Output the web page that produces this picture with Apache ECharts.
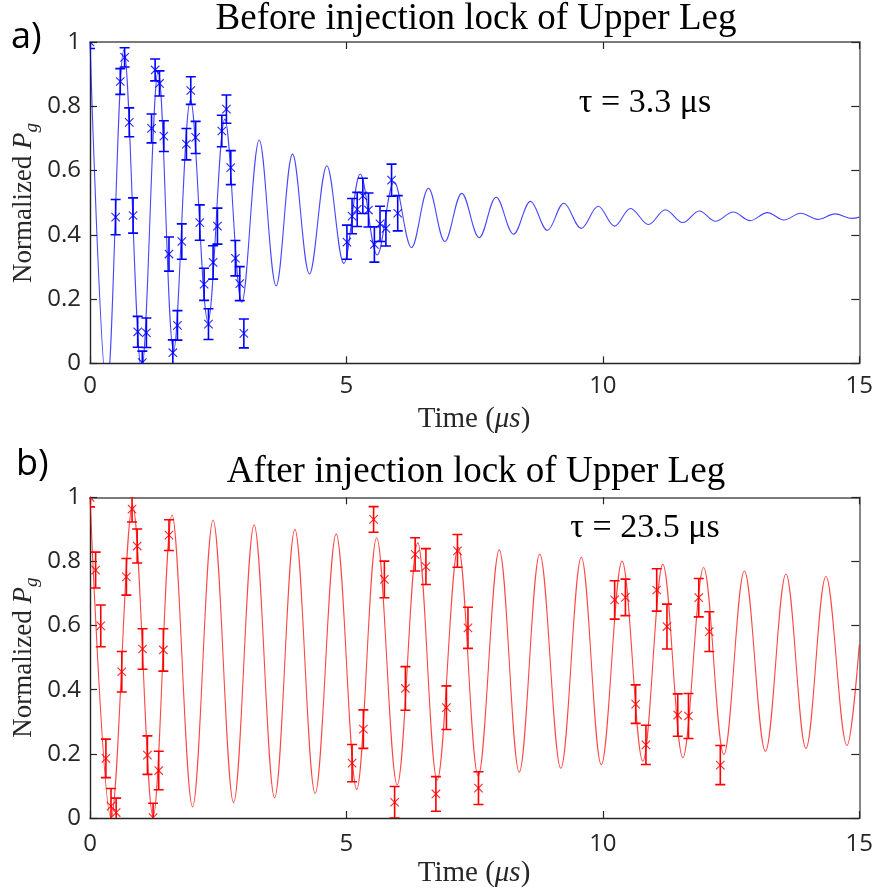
<!DOCTYPE html>
<html>
<head>
<meta charset="utf-8">
<script src="https://cdn.jsdelivr.net/npm/echarts@6/dist/echarts.min.js"></script>
<style>
  html, body { margin: 0; padding: 0; background: #ffffff; }
  #chart { width: 876px; height: 894px; }
</style>
</head>
<body>
<div id="chart"></div>
<script>
// ---------- Panel a) : before injection lock ----------
const topTime = [0, 0.50, 0.59, 0.675, 0.765, 0.84, 0.93, 1.02, 1.10, 1.20, 1.27, 1.355, 1.44, 1.54, 1.615, 1.705, 1.79, 1.88, 1.965, 2.06, 2.14, 2.225, 2.31, 2.40, 2.485, 2.57, 2.66, 2.745, 2.835, 2.92, 3.0,
                 5.01, 5.11, 5.21, 5.32, 5.43, 5.545, 5.655, 5.77, 5.88, 6.0];
const topValue = [1.0, 0.455, 0.877, 0.952, 0.75, 0.46, 0.098, 0.002, 0.095, 0.731, 0.913, 0.871, 0.707, 0.34, 0.033, 0.118, 0.379, 0.682, 0.849, 0.703, 0.438, 0.246, 0.122, 0.314, 0.427, 0.723, 0.791, 0.609, 0.327, 0.248, 0.093,
                  0.377, 0.458, 0.479, 0.521, 0.477, 0.37, 0.434, 0.42, 0.57, 0.467];
const topError = [0.02, 0.055, 0.04, 0.03, 0.045, 0.055, 0.048, 0.036, 0.046, 0.045, 0.034, 0.039, 0.048, 0.053, 0.04, 0.046, 0.055, 0.049, 0.043, 0.05, 0.055, 0.05, 0.048, 0.052, 0.056, 0.049, 0.044, 0.053, 0.055, 0.053, 0.045,
                  0.053, 0.055, 0.053, 0.055, 0.053, 0.055, 0.055, 0.055, 0.05, 0.055];
// fit curve: extrema (peaks / troughs)
const topFitTime = [0, 0.33, 0.66, 1.005, 1.33, 1.63, 1.96, 2.30, 2.63, 2.96, 3.30, 3.63, 3.95, 4.28, 4.62, 4.95, 5.27, 5.60, 5.93, 6.27, 6.60, 6.92, 7.25, 7.59, 7.92, 8.26, 8.59, 8.92, 9.24, 9.58, 9.91, 10.23, 10.54, 10.89, 11.22, 11.56, 11.88, 12.20, 12.54, 12.87, 13.21, 13.53, 13.86, 14.19, 14.53, 14.86, 15];
const topFitValue = [1.0, -0.08, 0.975, -0.02, 0.91, 0.04, 0.82, 0.13, 0.76, 0.19, 0.695, 0.241, 0.651, 0.278, 0.615, 0.311, 0.589, 0.337, 0.565, 0.36, 0.545, 0.379, 0.529, 0.391, 0.517, 0.402, 0.504, 0.414, 0.498, 0.42, 0.489, 0.427, 0.482, 0.432, 0.478, 0.438, 0.474, 0.442, 0.471, 0.444, 0.469, 0.446, 0.467, 0.448, 0.465, 0.451, 0.455];

// ---------- Panel b) : after injection lock ----------
const botTime = [0, 0.11, 0.21, 0.31, 0.41, 0.51, 0.62, 0.71, 0.82, 0.92, 1.025, 1.12, 1.23, 1.34, 1.43, 1.54,
                 5.11, 5.33, 5.53, 5.74, 5.94, 6.15, 6.34, 6.55, 6.745, 6.95, 7.165, 7.37, 7.575,
                 10.23, 10.44, 10.64, 10.84, 11.05, 11.25, 11.46, 11.67, 11.87, 12.075, 12.29];
const botValue = [1.0, 0.773, 0.599, 0.186, 0.037, 0.017, 0.456, 0.752, 0.963, 0.848, 0.527, 0.196, 0.001, 0.148, 0.524, 0.882,
                  0.171, 0.277, 0.931, 0.744, 0.049, 0.404, 0.822, 0.784, 0.075, 0.344, 0.833, 0.593, 0.093,
                  0.68, 0.688, 0.355, 0.228, 0.711, 0.597, 0.321, 0.318, 0.687, 0.581, 0.165];
const botError = [0.03, 0.056, 0.065, 0.06, 0.055, 0.045, 0.063, 0.057, 0.04, 0.053, 0.063, 0.06, 0.045, 0.06, 0.066, 0.048,
                  0.058, 0.06, 0.04, 0.057, 0.049, 0.068, 0.052, 0.056, 0.054, 0.068, 0.051, 0.064, 0.051,
                  0.06, 0.057, 0.06, 0.061, 0.066, 0.07, 0.066, 0.07, 0.06, 0.062, 0.061];
const botFitTime = [0, 0.41, 0.83, 1.23, 1.60, 2.0, 2.40, 2.80, 3.20, 3.60, 3.995, 4.39, 4.80, 5.20, 5.59, 5.99, 6.39, 6.77, 7.18, 7.57, 7.98, 8.37, 8.77, 9.18, 9.58, 9.97, 10.375, 10.78, 11.17, 11.56, 11.965, 12.36, 12.76, 13.17, 13.57, 13.96, 14.35, 14.76, 15];
const botFitValue = [1.0, 0.0, 0.974, 0.005, 0.945, 0.035, 0.929, 0.048, 0.914, 0.063, 0.9, 0.077, 0.886, 0.089, 0.874, 0.103, 0.858, 0.118, 0.844, 0.131, 0.836, 0.143, 0.823, 0.155, 0.813, 0.166, 0.801, 0.177, 0.791, 0.188, 0.781, 0.198, 0.770, 0.208, 0.761, 0.217, 0.753, 0.226, 0.54];

// ---------- axis ticks ----------
const xMin = 0, xMax = 15, xStep = 5;
const yMin = 0, yMax = 1, yStep = 0.2;

const titles = ['Before injection lock of Upper Leg', 'After injection lock of Upper Leg'];
const panelTags = ['a)', 'b)'];
const tauTexts = ['τ = 3.3 μs', 'τ = 23.5 μs'];

// ---------- build ----------
const SERIF = "'Liberation Serif', 'Times New Roman', serif";
const SANS = "'Open Sans', 'Noto Sans', sans-serif";
const AX_DARK = '#262626';
const AX_GREY = '#7a7a7a';

function zip2(a, b) { return a.map((v, i) => [v, b[i]]); }
function zip3(a, b, c) { return a.map((v, i) => [v, b[i], c[i]]); }

function errRenderer(color) {
  return function (params, api) {
    const x = api.value(0), y = api.value(1), e = api.value(2);
    const c = api.coord([x, y]);
    const hi = api.coord([x, y + e]);
    const lo = api.coord([x, y - e]);
    const cw = 5, m = 4.2;
    const bar = { stroke: color, lineWidth: 1.6 };
    const mk = { stroke: color, lineWidth: 1.1, opacity: 0.85 };
    return {
      type: 'group',
      children: [
        { type: 'line', shape: { x1: c[0], y1: hi[1], x2: c[0], y2: lo[1] }, style: bar },
        { type: 'line', shape: { x1: c[0] - cw, y1: hi[1], x2: c[0] + cw, y2: hi[1] }, style: bar },
        { type: 'line', shape: { x1: c[0] - cw, y1: lo[1], x2: c[0] + cw, y2: lo[1] }, style: bar },
        { type: 'line', shape: { x1: c[0] - m, y1: c[1] - m, x2: c[0] + m, y2: c[1] + m }, style: mk },
        { type: 'line', shape: { x1: c[0] - m, y1: c[1] + m, x2: c[0] + m, y2: c[1] - m }, style: mk }
      ]
    };
  };
}

const grids = [
  { left: 90, top: 42, width: 771, height: 321.3 },
  { left: 90, top: 497.3, width: 771, height: 320.7 }
];

const xAxes = [], yAxes = [];
[0, 1].forEach(g => {
  const labelMargin = g === 0 ? 11 : 14;
  xAxes.push({
    type: 'value', gridIndex: g, position: 'bottom', min: xMin, max: xMax, interval: xStep,
    axisLine: { onZero: false, lineStyle: { color: AX_DARK, width: 1.4 } },
    axisTick: { inside: true, length: 7, lineStyle: { color: AX_DARK, width: 1.2 } },
    axisLabel: { fontFamily: SANS, fontSize: 24, color: AX_DARK, margin: labelMargin },
    splitLine: { show: false }
  });
  xAxes.push({
    type: 'value', gridIndex: g, position: 'top', min: xMin, max: xMax, interval: xStep,
    axisLine: { onZero: false, lineStyle: { color: AX_GREY, width: 1.8 } },
    axisTick: { inside: true, length: 7, lineStyle: { color: AX_DARK, width: 1.2 } },
    axisLabel: { show: false },
    splitLine: { show: false }
  });
  yAxes.push({
    type: 'value', gridIndex: g, position: 'left', min: yMin, max: yMax, interval: yStep,
    axisLine: { show: true, onZero: false, lineStyle: { color: AX_DARK, width: 1.4 } },
    axisTick: { show: true, inside: true, length: 7, lineStyle: { color: AX_DARK, width: 1.2 } },
    axisLabel: { fontFamily: SANS, fontSize: 24, color: AX_DARK, margin: 9 },
    splitLine: { show: false }
  });
  yAxes.push({
    type: 'value', gridIndex: g, position: 'right', min: yMin, max: yMax, interval: yStep,
    axisLine: { show: true, onZero: false, lineStyle: { color: AX_GREY, width: 1.8 } },
    axisTick: { show: true, inside: true, length: 8, lineStyle: { color: AX_DARK, width: 1.2 } },
    axisLabel: { show: false },
    splitLine: { show: false }
  });
});

const series = [
  {
    type: 'line', xAxisIndex: 0, yAxisIndex: 0, data: zip2(topFitTime, topFitValue),
    showSymbol: false, smooth: 0.36, clip: true, z: 2,
    lineStyle: { color: 'rgba(0,0,255,0.72)', width: 1.1 }
  },
  {
    type: 'custom', xAxisIndex: 0, yAxisIndex: 0, data: zip3(topTime, topValue, topError),
    encode: { x: 0, y: 1 }, clip: true, z: 3, renderItem: errRenderer('#0000ff')
  },
  {
    type: 'line', xAxisIndex: 2, yAxisIndex: 2, data: zip2(botFitTime, botFitValue),
    showSymbol: false, smooth: 0.36, clip: true, z: 2,
    lineStyle: { color: 'rgba(255,0,0,0.72)', width: 1.1 }
  },
  {
    type: 'custom', xAxisIndex: 2, yAxisIndex: 2, data: zip3(botTime, botValue, botError),
    encode: { x: 0, y: 1 }, clip: true, z: 3, renderItem: errRenderer('#ff0000')
  }
];

const dy = 454.7;
const graphics = [];
[0, 1].forEach(g => {
  const off = g * dy;
  graphics.push({
    type: 'text', x: 476, y: g === 0 ? 19 : 472,
    style: { text: titles[g], fontFamily: SERIF, fontSize: 37, fill: '#000', align: 'center', verticalAlign: 'middle' }
  });
  graphics.push({
    type: 'text', x: g === 0 ? 11 : 16, y: (g === 0 ? 38 : 465),
    style: { text: panelTags[g], fontFamily: SANS, fontSize: 36, fill: '#000', align: 'left', verticalAlign: 'middle' }
  });
  graphics.push({
    type: 'text', x: 645, y: g === 0 ? 103 : 528,
    style: { text: tauTexts[g], fontFamily: SERIF, fontSize: 34, fill: '#000', align: 'center', verticalAlign: 'middle' }
  });
  graphics.push({
    type: 'text', x: 474, y: 419 + off,
    style: {
      text: '{n|Time (}{i|μs}{n|)}', align: 'center', verticalAlign: 'middle',
      rich: {
        n: { fontFamily: SERIF, fontSize: 29, fill: '#262626' },
        i: { fontFamily: SERIF, fontSize: 29, fontStyle: 'italic', fill: '#262626' }
      }
    }
  });
  graphics.push({
    type: 'text', x: 24, y: 203 + off, rotation: Math.PI / 2,
    style: {
      text: '{n|Normalized }{i|P}{s|g}', align: 'center', verticalAlign: 'middle',
      rich: {
        n: { fontFamily: SERIF, fontSize: 27, fill: '#262626', lineHeight: 34 },
        i: { fontFamily: SERIF, fontSize: 27, fontStyle: 'italic', fill: '#262626', lineHeight: 34 },
        s: { fontFamily: SERIF, fontSize: 19, fontStyle: 'italic', fill: '#262626', lineHeight: 20, verticalAlign: 'bottom' }
      }
    }
  });
});

const chart = echarts.init(document.getElementById('chart'), null, { renderer: 'canvas' });
chart.setOption({
  animation: false,
  backgroundColor: '#ffffff',
  grid: grids,
  xAxis: xAxes,
  yAxis: yAxes,
  series: series,
  graphic: graphics
});
</script>
</body>
</html>
